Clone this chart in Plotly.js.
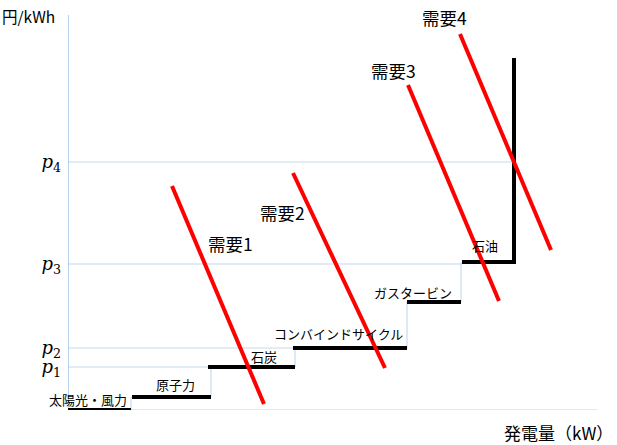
<!DOCTYPE html>
<html>
<head>
<meta charset="utf-8">
<script src="https://cdn.plot.ly/plotly-3.0.1.min.js"></script>
<style>
  html, body { margin: 0; padding: 0; background: #fff; }
  #chart { width: 617px; height: 445px; }
</style>
</head>
<body>
<div id="chart"></div>
<script>
// Supply steps (merit order): output range and marginal cost
var stepNames = ['太陽光・風力', '原子力', '石炭', 'コンバインドサイクル', 'ガスタービン', '石油'];
var stepStart = [0, 64, 140, 225, 339, 394];
var stepEnd   = [63, 143, 227, 339, 393, 446];
var stepCost  = [0, 13, 43, 62, 108, 148];
var oilTop = 352;

// Price levels p1..p4
var priceNames = ['p1', 'p2', 'p3', 'p4'];
var priceLevels = [43, 62, 146, 248];
var priceReach  = [140, 225, 394, 445];

// Demand curves (straight lines)
var demandNames = ['需要1', '需要2', '需要3', '需要4'];
var demandX0 = [104, 225, 340, 392];
var demandY0 = [224, 237, 325, 376];
var demandX1 = [196, 317, 431, 483];
var demandY1 = [6, 42, 109, 160];

// Axis extent
var axisXMax = 529;
var axisYMax = 395;

// label placement
var stepLabelX = [20, 107, 196, 270, 345, 417];
var stepLabelY = [11, 26, 54, 77, 118, 165];
var demandLabelX = [162, 214, 325, 376];
var demandLabelY = [167, 198, 340, 393];

var JP = '"Noto Sans CJK JP", "Noto Sans", sans-serif';
var gridBlue = '#c5d8ee';
var axisBlue = '#86b6e2';

var traces = [];

// faint price lines
var gx = [], gy = [];
priceLevels.forEach(function (p, i) {
    gx.push(0, priceReach[i], null);
    gy.push(p, p, null);
});
traces.push({
    x: gx, y: gy, type: 'scatter', mode: 'lines',
    line: { color: gridBlue, width: 1 }, hoverinfo: 'skip'
});

// thin risers between steps
var rx = [], ry = [];
for (var i = 0; i < stepNames.length - 1; i++) {
    rx.push(stepEnd[i], stepEnd[i], null);
    ry.push(stepCost[i], stepCost[i + 1], null);
}
traces.push({
    x: rx, y: ry, type: 'scatter', mode: 'lines',
    line: { color: '#b9d3ee', width: 1 }, hoverinfo: 'skip'
});

// axes
traces.push({
    x: [0, axisXMax], y: [0, 0], type: 'scatter', mode: 'lines',
    line: { color: '#b9d3ee', width: 1.2 }, hoverinfo: 'skip'
});
traces.push({
    x: [0, 0], y: [0, axisYMax], type: 'scatter', mode: 'lines',
    line: { color: axisBlue, width: 1.2 }, hoverinfo: 'skip'
});

// supply steps
var sx = [], sy = [];
stepNames.forEach(function (n, i) {
    sx.push(stepStart[i], stepEnd[i], null);
    sy.push(stepCost[i], stepCost[i], null);
});
traces.push({
    x: sx, y: sy, type: 'scatter', mode: 'lines',
    line: { color: '#000', width: 4 }, hoverinfo: 'skip'
});
var last = stepNames.length - 1;
traces.push({
    x: [stepEnd[last], stepEnd[last]], y: [stepCost[last] - 2, oilTop], type: 'scatter', mode: 'lines',
    line: { color: '#000', width: 4 }, hoverinfo: 'skip'
});

// demand lines
demandNames.forEach(function (n, i) {
    traces.push({
        x: [demandX0[i], demandX1[i]], y: [demandY0[i], demandY1[i]],
        type: 'scatter', mode: 'lines',
        line: { color: '#ff0000', width: 4 }, hoverinfo: 'skip'
    });
});

var annotations = [];
stepNames.forEach(function (n, i) {
    annotations.push({
        x: stepLabelX[i], y: stepLabelY[i], text: n, showarrow: false,
        xanchor: 'center', yanchor: 'middle',
        font: { family: JP, size: 13, color: '#000' }
    });
});
demandNames.forEach(function (n, i) {
    annotations.push({
        x: demandLabelX[i], y: demandLabelY[i], text: n, showarrow: false,
        xanchor: 'center', yanchor: 'middle',
        font: { family: JP, size: 17.5, color: '#000' }
    });
});
annotations.push({
    xref: 'paper', yref: 'paper', x: -0.124, y: 1, xanchor: 'left', yanchor: 'middle',
    yshift: -16, text: '円/kWh', showarrow: false,
    font: { family: JP, size: 15.5, color: '#000' }
});
annotations.push({
    xref: 'paper', yref: 'paper', x: 1, y: 0, xanchor: 'right', yanchor: 'middle',
    xshift: -2, yshift: -22, text: '発電量（kW）', showarrow: false,
    font: { family: JP, size: 17, color: '#000' }
});

var layout = {
    width: 617, height: 445,
    margin: { l: 68, r: 0, t: 0, b: 35 },
    paper_bgcolor: '#fff', plot_bgcolor: '#fff',
    showlegend: false,
    xaxis: {
        range: [0, 549], showgrid: false, zeroline: false, showline: false,
        showticklabels: false, ticks: '', fixedrange: true
    },
    yaxis: {
        range: [0, 410], showgrid: false, zeroline: false, showline: false,
        tickmode: 'array', tickvals: priceLevels,
        ticktext: priceNames.map(function (p) { return '<i>p</i><sub>' + p.slice(1) + '</sub>'; }),
        ticks: '', ticklabelstandoff: 6,
        tickfont: { family: '"DejaVu Serif", "Liberation Serif", serif', size: 18, color: '#000' },
        fixedrange: true
    },
    annotations: annotations
};

Plotly.newPlot('chart', traces, layout, { displayModeBar: false, staticPlot: true });
</script>
</body>
</html>
